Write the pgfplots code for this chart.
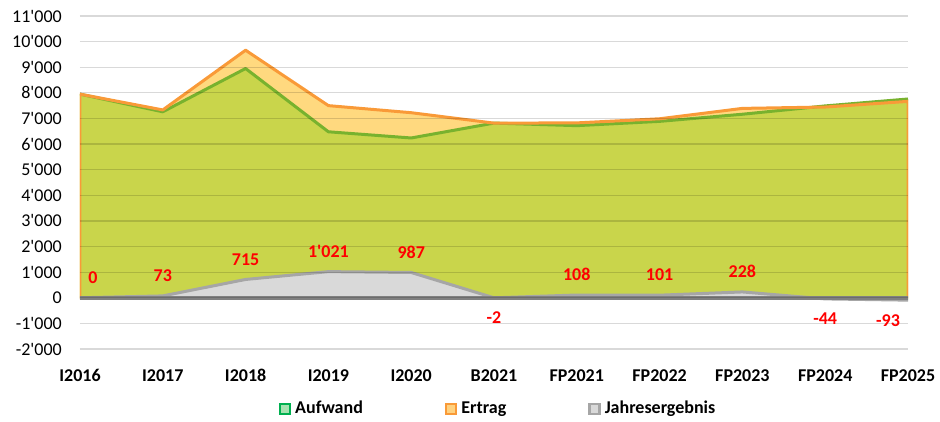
\documentclass[border=0pt]{standalone}
\usepackage{pgfplots}
\pgfplotsset{compat=1.18}
\usepackage{fontspec}
\setmainfont{Carlito}
\definecolor{aufFill}{HTML}{C9D54B}
\definecolor{aufLine}{HTML}{78B22E}
\definecolor{ertFill}{HTML}{FFD97F}
\definecolor{ertLine}{HTML}{F99A38}
\definecolor{jaFill}{HTML}{D9D9D9}
\definecolor{jaLine}{HTML}{A6A6A6}
\definecolor{zeroLine}{HTML}{808080}
\definecolor{legAufFill}{HTML}{A6E3B0}
\definecolor{legAufLine}{HTML}{00B050}
\definecolor{legErtFill}{HTML}{FFD280}
\begin{document}
\fontsize{18}{21}\selectfont
\begin{tikzpicture}
\useasboundingbox (-80pt,-72pt) rectangle (860pt,349pt);
\begin{axis}[
  at={(0,0)}, anchor=south west,
  scale only axis, width=828pt, height=333pt,
  xmin=0, xmax=10, ymin=-2000, ymax=11000,
  axis line style={draw=none},
  major tick length=0pt,
  xtick={0,...,10},
  xticklabels={I2016,I2017,I2018,I2019,I2020,B2021,FP2021,FP2022,FP2023,FP2024,FP2025},
  xticklabel style={font=\fontsize{18}{21}\selectfont\bfseries, yshift=-14pt},
  ytick={-2000,-1000,...,11000},
  scaled y ticks=false,
  yticklabel style={font=\fontsize{18}{21}\selectfont, xshift=-12pt},
  ymajorgrids,
  grid style={line width=1.2pt, black, opacity=0.15},
  axis on top,
  /pgf/number format/assume math mode=true,
  /pgf/number format/1000 sep={\textquotesingle},
  legend columns=3,
  legend style={at={(0.5,0)}, anchor=center, yshift=-60pt, xshift=4pt, draw=none, fill=none,
    font=\fontsize{18}{21}\selectfont\bfseries,
    /tikz/every even column/.append style={column sep=80pt},
    /tikz/every odd column/.append style={column sep=2pt}},
  legend image code/.code={\draw[line width=2.5pt,#1] (0pt,-5pt) rectangle (10pt,5pt);},
  lbl/.style={draw=none, mark=none, forget plot,
    nodes near coords, nodes near coords align={vertical},
    every node near coord/.append style={font=\fontsize{18}{21}\selectfont\bfseries, text=red, inner ysep=14pt, inner xsep=0pt}},
]
% Ertrag area (behind)
\addplot[fill=ertFill, draw=none, forget plot] coordinates {
 (0,7950) (1,7333) (2,9665) (3,7501) (4,7225) (5,6818) (6,6827) (7,6988) (8,7393) (9,7446) (10,7667)
} \closedcycle;
% Aufwand area
\addplot[fill=aufFill, draw=none, forget plot] coordinates {
 (0,7950) (1,7260) (2,8950) (3,6480) (4,6238) (5,6820) (6,6719) (7,6887) (8,7165) (9,7490) (10,7760)
} \closedcycle;
% Aufwand line
\addplot[aufLine, line width=3pt, line join=round, forget plot] coordinates {
 (0,7950) (1,7260) (2,8950) (3,6480) (4,6238) (5,6820) (6,6719) (7,6887) (8,7165) (9,7490) (10,7760)
};
% Ertrag outline
\addplot[ertLine, line width=3pt, line join=round, forget plot] coordinates {
 (0,7950) (1,7333) (2,9665) (3,7501) (4,7225) (5,6818) (6,6827) (7,6988) (8,7393) (9,7446) (10,7667)
} \closedcycle;
% Jahresergebnis area
\addplot[fill=jaFill, draw=jaLine, line width=3pt, line join=round, forget plot] coordinates {
 (0,0) (1,73) (2,715) (3,1021) (4,987) (5,-2) (6,108) (7,101) (8,228) (9,-44) (10,-93)
} \closedcycle;
% zero line
\addplot[zeroLine, line width=4.5pt, forget plot] coordinates {(0,0) (10,0)};
% labels
\addplot[lbl] coordinates {
 (1,73) (2,715) (3,1021) (4,987) (5,-2) (6,108) (7,101) (8,228) (9,-44)
};
\addplot[lbl, every node near coord/.append style={xshift=13pt}] coordinates {(0,0)};
\addplot[lbl, every node near coord/.append style={xshift=-20pt}] coordinates {(10,-93)};
\addlegendimage{draw=legAufLine, fill=legAufFill}
\addlegendentry{Aufwand}
\addlegendimage{draw=ertLine, fill=legErtFill}
\addlegendentry{Ertrag}
\addlegendimage{draw=jaLine, fill=jaFill}
\addlegendentry{Jahresergebnis}
\end{axis}
\end{tikzpicture}
\end{document}
